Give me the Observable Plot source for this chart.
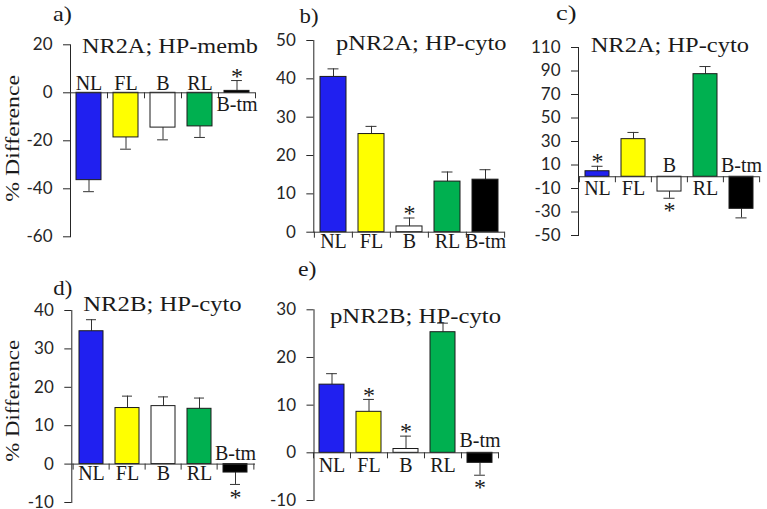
<!DOCTYPE html>
<html><head><meta charset="utf-8">
<script src="https://cdn.jsdelivr.net/npm/d3@7"></script>
<script src="https://cdn.jsdelivr.net/npm/@observablehq/plot@0.6"></script>
<style>
html,body{margin:0;padding:0;background:#fff;}
#chart{position:relative;width:767px;height:509px;overflow:hidden;background:#fff;}
#chart svg{position:absolute;}
</style></head><body><div id="chart"></div>
<script>
// ---- data ----
const categories = ["NL", "FL", "B", "RL", "B-tm"];
const barColors = ["#2020f0", "#ffff00", "#ffffff", "#00b050", "#000000"];

const aValues = [-36.4, -18.6, -14.5, -14.0, 0.8];
const aErrors = [4.8, 4.9, 5.1, 4.6, 4.3];
const aSig = [0, 0, 0, 0, 1];
const aTicks = [20, 0, -20, -40, -60];

const bValues = [40.5, 25.6, 1.5, 13.2, 13.7];
const bErrors = [2.1, 2.0, 2.2, 2.5, 2.6];
const bSig = [0, 0, 1, 0, 0];
const bTicks = [50, 40, 30, 20, 10, 0];

const cValues = [4.7, 32.0, -12.6, 87.3, -27.3];
const cErrors = [4.2, 5.7, 5.7, 6.5, 7.7];
const cSig = [1, 0, 1, 0, 0];
const cTicks = [110, 90, 70, 50, 30, 10, -10, -30, -50];

const dValues = [34.6, 14.6, 15.1, 14.4, -2.2];
const dErrors = [3.0, 3.1, 2.4, 2.8, 3.1];
const dSig = [0, 0, 0, 0, 1];
const dTicks = [40, 30, 20, 10, 0, -10];

const eValues = [14.3, 8.6, 0.8, 25.3, -2.1];
const eErrors = [2.3, 2.6, 2.7, 1.9, 2.6];
const eSig = [0, 1, 1, 0, 1];
const eTicks = [30, 20, 10, 0, -10];

const panelLetters = ["a)", "b)", "c)", "d)", "e)"];
const panelTitles = ["NR2A; HP-memb", "pNR2A; HP-cyto", "NR2A; HP-cyto", "NR2B; HP-cyto", "pNR2B; HP-cyto"];
const yLabel = "% Difference";

// ---- layout ----
const SERIF = "Liberation Serif, Times New Roman, serif";
const SANS = "Lato, Open Sans, sans-serif";
const panels = [
  {values: aValues, errors: aErrors, sig: aSig, ticks: aTicks, domain: [-60, 20], left: 0, top: 0, width: 262, height: 250, mL: 70, mR: 7, mT: 44.3, mB: 13.7, above: -2.7, below: 18, pad: 0.32},
  {values: bValues, errors: bErrors, sig: bSig, ticks: bTicks, domain: [0, 50], left: 262, top: 0, width: 250, height: 250, mL: 51.3, mR: 7.5, mT: 40, mB: 18.3, above: -3, below: 15.5, pad: 0.32},
  {values: cValues, errors: cErrors, sig: cSig, ticks: cTicks, domain: [-50, 110], left: 512, top: 0, width: 255, height: 250, mL: 66, mR: 8, mT: 47, mB: 15, above: -4.5, below: 18.5, pad: 0.34},
  {values: dValues, errors: dErrors, sig: dSig, ticks: dTicks, domain: [-10, 40], left: 0, top: 250, width: 262, height: 259, mL: 71.3, mR: 7, mT: 60, mB: 7, above: -4, below: 16, pad: 0.32},
  {values: eValues, errors: eErrors, sig: eSig, ticks: eTicks, domain: [-10, 30], left: 262, top: 250, width: 250, height: 259, mL: 51.5, mR: 13.4, mT: 59.3, mB: 9, above: -6, below: 19, pad: 0.32}
];

const chart = document.getElementById("chart");

panels.forEach((p) => {
  const data = categories.map((c, i) => ({
    cat: c,
    value: p.values[i],
    end: p.values[i] + (p.values[i] < 0 ? -1 : 1) * p.errors[i],
    color: barColors[i],
    sig: p.sig[i]
  }));
  const R = p.width - p.mL - p.mR;
  const step = R / 5;
  const bw = step * (1 - p.pad);
  const capInset = Math.max(0, (bw - 11) / 2);
  const axisColor = "#333";
  const svg = Plot.plot({
    width: p.width,
    height: p.height,
    marginLeft: p.mL,
    marginRight: p.mR,
    marginTop: p.mT,
    marginBottom: p.mB,
    style: {fontFamily: SANS, fontSize: "17px", color: "#262626", background: "transparent", overflow: "visible"},
    x: {domain: categories, axis: null, paddingInner: p.pad, paddingOuter: p.pad / 2},
    y: {domain: p.domain, ticks: p.ticks, tickSize: 7, tickPadding: 11, line: true, label: null, tickFormat: (d) => String(d)},
    color: {type: "identity"},
    marks: [
      Plot.ruleX(data, {x: "cat", y1: "value", y2: "end", stroke: axisColor, strokeWidth: 1}),
      Plot.tickY(data, {x: "cat", y: "end", stroke: axisColor, strokeWidth: 1, insetLeft: capInset, insetRight: capInset}),
      Plot.barY(data, {x: "cat", y: "value", fill: "color", stroke: "#1a1a1a", strokeWidth: 1}),
      Plot.ruleY([0], {stroke: axisColor, strokeWidth: 1}),
      Plot.ruleX(categories, {x: (d) => d, y1: () => 0, y2: () => 0, insetBottom: -6, dx: -step / 2, stroke: axisColor}),
      Plot.ruleX(categories.slice(-1), {x: (d) => d, y1: () => 0, y2: () => 0, insetBottom: -6, dx: step / 2, stroke: axisColor}),
      Plot.text(data.filter((d) => d.value < 0), {x: "cat", y: () => 0, text: "cat", lineAnchor: "bottom", dy: p.above, fontFamily: SERIF, fontSize: 20, fill: "#1a1a1a"}),
      Plot.text(data.filter((d) => d.value >= 0), {x: "cat", y: () => 0, text: "cat", lineAnchor: "bottom", dy: p.below, fontFamily: SERIF, fontSize: 20, fill: "#1a1a1a"}),
      Plot.text(data.filter((d) => d.sig && d.value >= 0), {x: "cat", y: "end", text: () => "*", lineAnchor: "middle", dy: -4.5, fontFamily: SERIF, fontSize: 24, fill: "#1a1a1a"}),
      Plot.text(data.filter((d) => d.sig && d.value < 0), {x: "cat", y: "end", text: () => "*", lineAnchor: "middle", dy: 12.5, fontFamily: SERIF, fontSize: 24, fill: "#1a1a1a"})
    ]
  });
  svg.style.left = p.left + "px";
  svg.style.top = p.top + "px";
  chart.appendChild(svg);
});

// ---- overlay text: panel letters, titles, y labels ----
const letterPos = [[53, 21.3, 19], [299.5, 23, 19], [556, 19.6, 20.5], [53.3, 294.6, 19], [298, 276.3, 18.5]];
const titlePos = [[82, 53, 176], [336, 49.5, 170.5], [590.7, 51.7, 158.3], [83.3, 310.7, 158.4], [330, 323.3, 171]];
const yLabelPos = [[18.5, 138.3, 126.7], [18.5, 400.8, 121.7]];

const overlay = d3.create("svg")
  .attr("width", 767).attr("height", 509)
  .style("left", "0px").style("top", "0px").style("pointer-events", "none");

panelLetters.forEach((t, i) => {
  overlay.append("text").attr("x", letterPos[i][0]).attr("y", letterPos[i][1])
    .attr("textLength", letterPos[i][2]).attr("lengthAdjust", "spacingAndGlyphs")
    .style("font-family", SERIF).attr("font-size", 22).attr("fill", "#1a1a1a").text(t);
});
panelTitles.forEach((t, i) => {
  overlay.append("text").attr("x", titlePos[i][0]).attr("y", titlePos[i][1])
    .attr("textLength", titlePos[i][2]).attr("lengthAdjust", "spacingAndGlyphs")
    .style("font-family", SERIF).attr("font-size", 21).attr("fill", "#1a1a1a").text(t);
});
yLabelPos.forEach(([x, y, len]) => {
  overlay.append("text").attr("transform", `translate(${x},${y}) rotate(-90)`)
    .attr("text-anchor", "middle").attr("textLength", len).attr("lengthAdjust", "spacingAndGlyphs")
    .style("font-family", SERIF).attr("font-size", 19).attr("fill", "#1a1a1a").text(yLabel);
});
chart.appendChild(overlay.node());
</script>
</body></html>
